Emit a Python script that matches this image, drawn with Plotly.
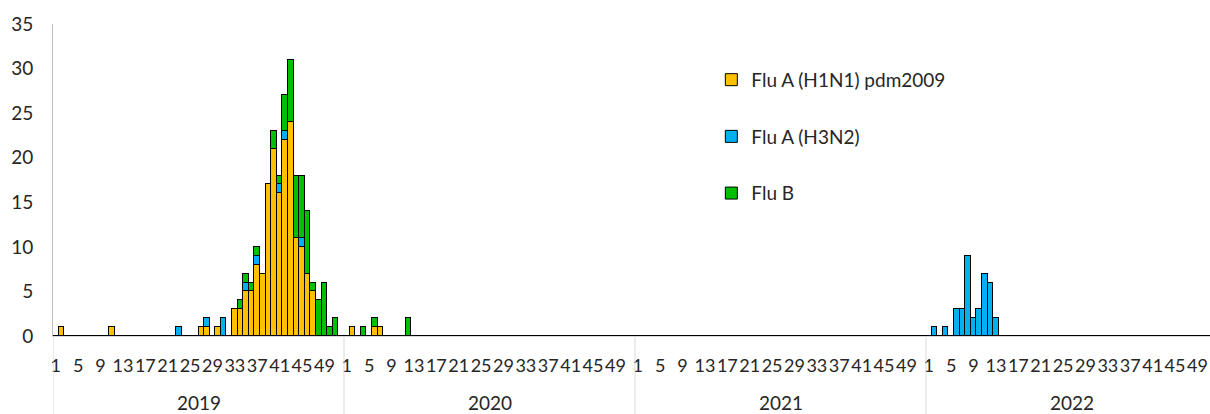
import plotly.graph_objects as go

# ---- data (weekly counts, sparse: week -> count) ----
years = [2019, 2020, 2021, 2022]
weeks_per_year = 52
tick_weeks = [1, 5, 9, 13, 17, 21, 25, 29, 33, 37, 41, 45, 49]

h1n1 = {
    2019: {2: 1, 11: 1, 27: 1, 28: 1, 30: 1, 33: 3, 34: 3, 35: 5, 36: 5, 37: 8,
           38: 7, 39: 17, 40: 21, 41: 16, 42: 22, 43: 24, 44: 11, 45: 10, 46: 7, 47: 5},
    2020: {2: 1, 6: 1, 7: 1},
}
h3n2 = {
    2019: {23: 1, 28: 1, 31: 2, 35: 1, 37: 1, 41: 1, 42: 1, 45: 1},
    2022: {2: 1, 4: 1, 6: 3, 7: 3, 8: 9, 9: 2, 10: 3, 11: 7, 12: 6, 13: 2},
}
flub = {
    2019: {34: 1, 35: 1, 36: 1, 37: 1, 40: 2, 41: 1, 42: 4, 43: 7, 44: 7, 45: 7,
           46: 7, 47: 1, 48: 4, 49: 6, 50: 1, 51: 2},
    2020: {4: 1, 6: 1, 12: 2},
}

series = [
    ("Flu A (H1N1) pdm2009", h1n1, "#FFC000"),
    ("Flu A (H3N2)", h3n2, "#00B0F0"),
    ("Flu B", flub, "#00C000"),
]

FONT = "Lato"
TXT = "#262626"
FS = 19

# flat category index for each (year, week)
xs = list(range(len(years) * weeks_per_year))


def expand(d):
    vals = []
    for y in years:
        for w in range(1, weeks_per_year + 1):
            vals.append(d.get(y, {}).get(w, 0))
    return vals


fig = go.Figure()
for i, (name, d, color) in enumerate(series):
    fig.add_trace(go.Bar(
        x=xs, y=expand(d), name=name, width=1,
        marker=dict(color=color, line=dict(color="#000000", width=1)),
        legendgroup=str(i),
        hoverinfo="skip",
    ))

tickvals = []
ticktext = []
for k, y in enumerate(years):
    for w in tick_weeks:
        tickvals.append(k * weeks_per_year + (w - 1))
        ticktext.append(str(w))

# year separators and labels
shapes = []
annotations = []
for k, y in enumerate(years):
    x0 = k * weeks_per_year - 0.5
    shapes.append(dict(type="line", xref="x", yref="paper", x0=x0, x1=x0,
                       y0=0, y1=-0.25, line=dict(color="#d9d9d9", width=1)))
    annotations.append(dict(xref="x", yref="paper", x=k * weeks_per_year + (weeks_per_year - 1) / 2,
                            y=-0.214, yanchor="middle", showarrow=False, text=str(y),
                            font=dict(family=FONT, size=FS, color=TXT)))

fig.update_layout(
    width=1210, height=414,
    margin=dict(l=53, r=0, t=24, b=78, pad=0),
    plot_bgcolor="white", paper_bgcolor="white",
    barmode="stack", bargap=0,
    showlegend=True,
    legend=dict(x=0.569, y=0.882, xanchor="left", yanchor="top",
                traceorder="grouped", tracegroupgap=29,
                font=dict(family=FONT, size=FS, color=TXT),
                bgcolor="rgba(0,0,0,0)"),
    xaxis=dict(range=[-0.5, 206.25], tickmode="array", tickvals=tickvals, ticktext=ticktext,
               tickangle=0, ticks="", showgrid=False, zeroline=False,
               showline=True, linecolor="#d9d9d9", linewidth=1,
               ticklabelstandoff=13, ticklabeloverflow="allow",
               tickfont=dict(family=FONT, size=18, color=TXT)),
    yaxis=dict(range=[0, 35], dtick=5, ticks="", showgrid=False, zeroline=False,
               showline=True, linecolor="#bfbfbf", linewidth=1,
               ticklabelstandoff=15,
               tickfont=dict(family=FONT, size=FS, color=TXT)),
    shapes=shapes,
    annotations=annotations,
    hovermode=False,
)

fig.write_html("out.html",
               config={"displayModeBar": False},
               post_script="document.body.style.margin='0';document.body.style.overflow='hidden';")
